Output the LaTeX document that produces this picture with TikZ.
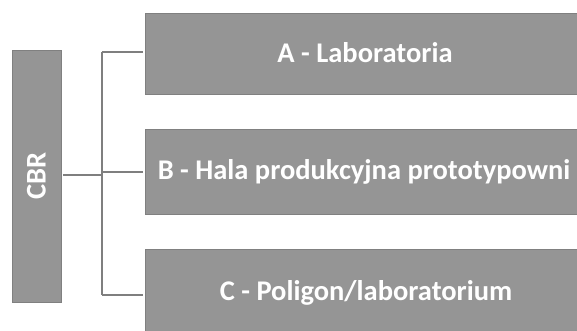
\documentclass[tikz,border=0pt]{standalone}
\usepackage{fontspec}
\setmainfont{Carlito}
\definecolor{boxfill}{HTML}{959595}
\definecolor{boxline}{HTML}{808080}
\definecolor{conn}{HTML}{7F7F7F}
\begin{document}
\begin{tikzpicture}[x=1pt,y=-1pt,
  box/.style={draw=boxline,line width=0.8pt,fill=boxfill,inner sep=0pt,outer sep=0pt},
  lbl/.style={text=white,font=\bfseries\fontsize{28.5}{32}\selectfont,inner sep=0pt},
  conline/.style={draw=conn,line width=2pt}]
\useasboundingbox (0,0) rectangle (577,331);
\begin{scope}
\clip (0,0) rectangle (577,331);
\node[box,minimum width=49pt,minimum height=252pt] (cbr) at (36.5,176) {};
\node[lbl,rotate=90] at (cbr.center) {CBR};
\node[box,minimum width=442pt,minimum height=81pt,anchor=north west] (a) at (145,13) {};
\node[box,minimum width=442pt,minimum height=85pt,anchor=north west] (b) at (145,129) {};
\node[box,minimum width=442pt,minimum height=88pt,anchor=north west] (c) at (145,249) {};
\node[lbl] (ta) at (365,53) {A - Laboratoria};
\node[lbl] (tb) at (364,172) {B - Hala produkcyjna prototypowni};
\node[lbl] (tc) at (366,293) {C - Poligon/laboratorium};
\coordinate (j) at (102,175);
\coordinate (jt) at (102,52);
\coordinate (jb) at (102,295);
\coordinate (jm) at (102,172);
\draw[conline] (cbr.east |- j) ++(2,0) -- (j);
\draw[conline] (jt) -- (jb);
\draw[conline] (jt) -- ++(41,0);
\draw[conline] (jm) -- ++(41,0);
\draw[conline] (jb) -- ++(41,0);
\end{scope}
\end{tikzpicture}
\end{document}
